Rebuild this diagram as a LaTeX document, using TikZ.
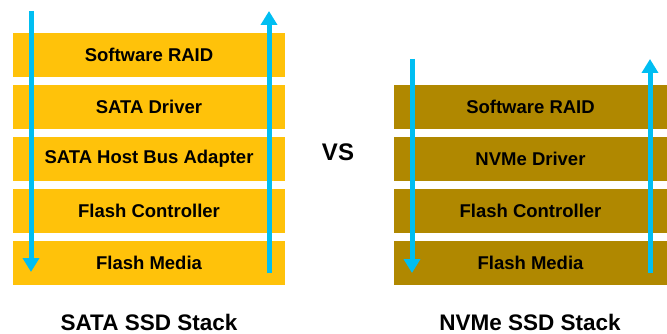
\documentclass[tikz,border=0pt]{standalone}
\usepackage{fontspec}
\setmainfont{Liberation Sans}
\usetikzlibrary{arrows.meta}
\definecolor{sata}{HTML}{FFC20A}
\definecolor{nvme}{HTML}{B08800}
\definecolor{flow}{HTML}{00BEF2}
\begin{document}
\begin{tikzpicture}[x=1pt,y=-1pt,
  bar/.style={minimum height=44pt, inner sep=0pt, font=\fontsize{18.5}{21}\selectfont\bfseries, text=black},
  satabar/.style={bar, fill=sata, minimum width=272pt},
  nvmebar/.style={bar, fill=nvme, minimum width=273pt},
  flowline/.style={draw=flow, line width=5pt, -{Triangle[width=16pt,length=14pt]}},
  title/.style={font=\fontsize{22.5}{24}\selectfont\bfseries, text=black, inner sep=0pt, text depth=0pt, anchor=base},
  vs/.style={font=\fontsize{24}{26}\selectfont\bfseries, text=black, inner sep=0pt}
]
\useasboundingbox (0,0) rectangle (667,334);
% SATA stack
\node[satabar] (s1) at (149,55) {Software RAID};
\node[satabar] (s2) at (149,107) {SATA Driver};
\node[satabar] (s3) at (149,159) {SATA Host Bus Adapter};
\node[satabar] (s4) at (149,211) {Flash Controller};
\node[satabar] (s5) at (149,263) {Flash Media};
% NVMe stack
\node[nvmebar] (n1) at (530.5,107) {Software RAID};
\node[nvmebar] (n2) at (530.5,159) {NVMe Driver};
\node[nvmebar] (n3) at (530.5,211) {Flash Controller};
\node[nvmebar] (n4) at (530.5,263) {Flash Media};
% arrows
\coordinate (sd1) at (31,11);
\coordinate (sd2) at (31,272);
\coordinate (su1) at (269,273);
\coordinate (su2) at (269,11);
\coordinate (nd1) at (412,59);
\coordinate (nd2) at (412,273);
\coordinate (nu1) at (650,273);
\coordinate (nu2) at (650,59);
\draw[flowline] (sd1) -- (sd2);
\draw[flowline] (su1) -- (su2);
\draw[flowline] (nd1) -- (nd2);
\draw[flowline] (nu1) -- (nu2);
% labels
\node[vs] (vs) at (338,152) {VS};
\node[title] (t1) at (149,330) {SATA SSD Stack};
\node[title] (t2) at (530,330) {NVMe SSD Stack};
\end{tikzpicture}
\end{document}
